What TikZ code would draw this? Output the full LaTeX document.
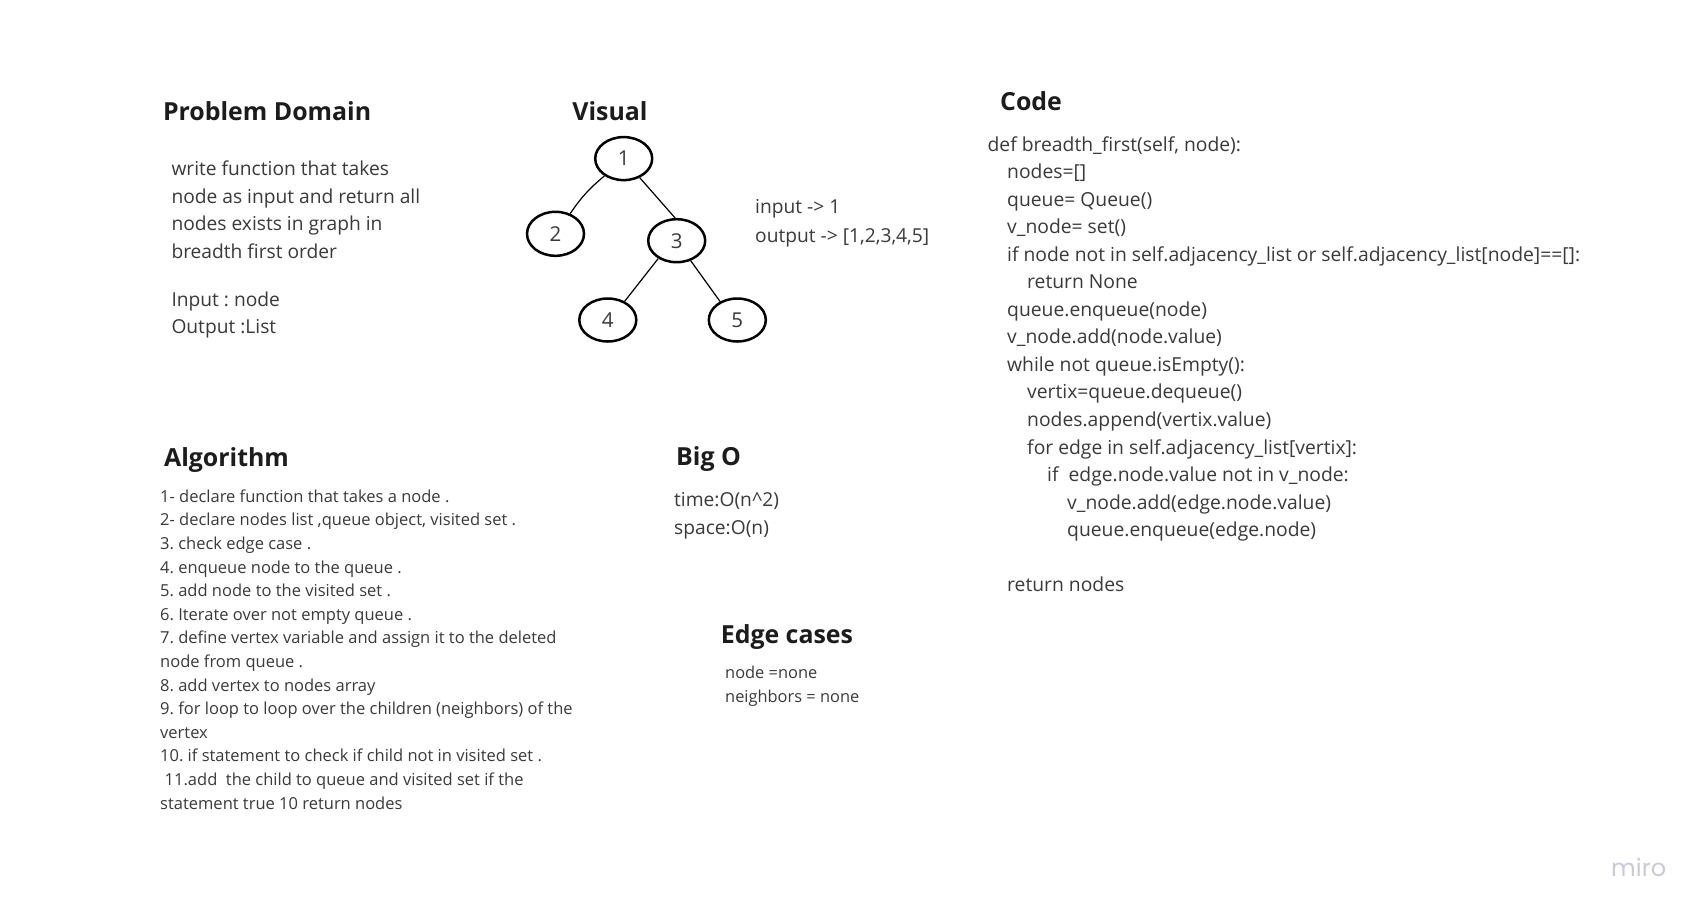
\documentclass[tikz,border=0pt]{standalone}
\usepackage{fontspec}
\setmainfont{Open Sans}
\newfontfamily\mirofont{Poppins}
\usetikzlibrary{shapes.geometric}
\definecolor{headc}{HTML}{1C1C1C}
\definecolor{bodyc}{HTML}{3A3A3A}
\definecolor{miroc}{HTML}{CACBD6}
\tikzset{
  head/.style={anchor=base west, inner sep=0pt, text=headc, font=\fontsize{24.9}{28}\selectfont\bfseries},
  pdtext/.style={anchor=base west, inner sep=0pt, text=bodyc, font=\fontsize{19.2}{24}\selectfont\frenchspacing},
  codetext/.style={anchor=base west, inner sep=0pt, text=bodyc, font=\fontsize{19.3}{24}\selectfont\frenchspacing},
  algtext/.style={anchor=base west, inner sep=0pt, text=bodyc, font=\fontsize{16.5}{20}\selectfont\frenchspacing},
  edgetext/.style={anchor=base west, inner sep=0pt, text=bodyc, font=\fontsize{16.4}{20}\selectfont\frenchspacing},
  vnode/.style={draw=black, line width=2.5pt, ellipse, minimum width=57pt, minimum height=43pt, inner sep=0pt, text=bodyc, font=\fontsize{20.5}{22}\selectfont},
  vedge/.style={draw=black, line width=1.2pt},
}
\begin{document}
\begin{tikzpicture}[x=1pt,y=-1pt]
\useasboundingbox (0,0) rectangle (1705,916);
\fill[white] (0,0) rectangle (1705,916);

% ---------- Problem Domain ----------
\node[head] (pdh) at (162.8,120) {Problem Domain};
\node[pdtext] (pd1) at (171.3,175.6) {write function that takes};
\node[pdtext] (pd2) at (171.3,203.1) {node as input and return all};
\node[pdtext] (pd3) at (171.3,230.6) {nodes exists in graph in};
\node[pdtext] (pd4) at (171.3,258.1) {breadth first order};
\node[pdtext] (pd5) at (171.3,306.4) {Input : node};
\node[pdtext] (pd6) at (171.3,333.4) {Output :List};

% ---------- Visual ----------
\node[head] (vh) at (572.2,120) {Visual};
\node[vnode] (n1) at (623.7,158.6) {1};
\node[vnode, minimum height=44pt] (n2) at (555.5,233.8) {2};
\node[vnode] (n3) at (676.7,240.7) {3};
\node[vnode] (n4) at (607.8,320) {4};
\node[vnode] (n5) at (737.3,320) {5};
\draw[vedge] (n1.222) to[bend right=8] (n2.54);
\draw[vedge] (n1.-50) -- (n3.94);
\draw[vedge] (n3.224) -- (n4.48);
\draw[vedge] (n3.-55) -- (n5.133);
\node[pdtext] (io1) at (755,213.5) {input -> 1};
\node[pdtext] (io2) at (755,242) {output -> [1,2,3,4,5]};

% ---------- Code ----------
\node[head] (ch) at (1000,110) {Code};
\node[codetext] (c0) at (987.4,151) {def breadth\_first(self, node):};
\node[codetext] (c1) at (1007,178.55) {nodes=[]};
\node[codetext] (c2) at (1007,206.1) {queue= Queue()};
\node[codetext] (c3) at (1007,233.65) {v\_node= set()};
\node[codetext] (c4) at (1007,261.2) {if node not in self.adjacency\_list or self.adjacency\_list[node]==[]:};
\node[codetext] (c5) at (1027,288.75) {return None};
\node[codetext] (c6) at (1007,316.3) {queue.enqueue(node)};
\node[codetext] (c7) at (1007,343.85) {v\_node.add(node.value)};
\node[codetext] (c8) at (1007,371.4) {while not queue.isEmpty():};
\node[codetext] (c9) at (1027,398.95) {vertix=queue.dequeue()};
\node[codetext] (c10) at (1027,426.5) {nodes.append(vertix.value)};
\node[codetext] (c11) at (1027,454.05) {for edge in self.adjacency\_list[vertix]:};
\node[codetext] (c12) at (1047,481.6) {if\ \ edge.node.value not in v\_node:};
\node[codetext] (c13) at (1067,509.15) {v\_node.add(edge.node.value)};
\node[codetext] (c14) at (1067,536.7) {queue.enqueue(edge.node)};
\node[codetext] (c16) at (1007,591.8) {return nodes};

% ---------- Algorithm ----------
\node[head] (ah) at (163.9,466) {Algorithm};
\node[algtext] (a1) at (160,502.3) {1- declare function that takes a node .};
\node[algtext] (a2) at (160,525.9) {2- declare nodes list ,queue object, visited set .};
\node[algtext] (a3) at (160,549.5) {3. check edge case .};
\node[algtext] (a4) at (160,573.1) {4. enqueue node to the queue .};
\node[algtext] (a5) at (160,596.7) {5. add node to the visited set .};
\node[algtext] (a6) at (160,620.3) {6. Iterate over not empty queue .};
\node[algtext] (a7) at (160,643.9) {7. define vertex variable and assign it to the deleted};
\node[algtext] (a8) at (160,667.5) {node from queue .};
\node[algtext] (a9) at (160,691.1) {8. add vertex to nodes array};
\node[algtext] (a10) at (160,714.7) {9. for loop to loop over the children (neighbors) of the};
\node[algtext] (a11) at (160,738.3) {vertex};
\node[algtext] (a12) at (160,761.9) {10. if statement to check if child not in visited set .};
\node[algtext] (a13) at (164.5,785.5) {11.add\ \ the child to queue and visited set if the};
\node[algtext] (a14) at (160,809.1) {statement true 10 return nodes};

% ---------- Big O ----------
\node[head] (bh) at (676,465) {Big O};
\node[pdtext] (b1) at (674,506.8) {time:O(n\textasciicircum 2)};
\node[pdtext] (b2) at (674,534.5) {space:O(n)};

% ---------- Edge cases ----------
\node[head] (eh) at (720.6,643.3) {Edge cases};
\node[edgetext] (e1) at (725,678.5) {node =none};
\node[edgetext] (e2) at (725,702.5) {neighbors = none};

% ---------- logo ----------
\node[anchor=base west, inner sep=0pt, text=miroc, font=\mirofont\fontsize{24}{26}\selectfont] (miro) at (1611,876) {miro};
\end{tikzpicture}
\end{document}
